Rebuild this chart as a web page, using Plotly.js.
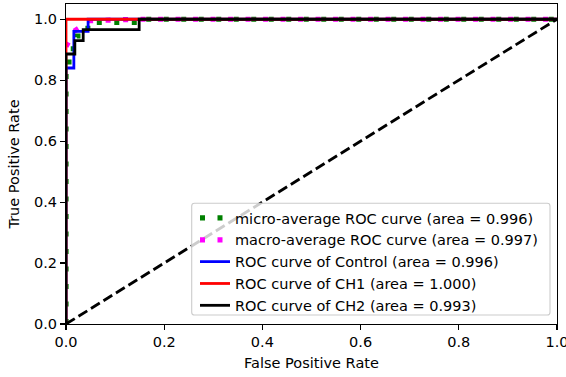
<!DOCTYPE html>
<html>
<head>
<meta charset="utf-8">
<script src="https://cdn.plot.ly/plotly-3.0.1.min.js"></script>
<style>html,body{margin:0;padding:0;background:#fff;}#chart{width:566px;height:377px;}</style>
</head>
<body>
<div id="chart"></div>
<script>
// ---- data ----
const microFpr = [0, 0, 0.006, 0.006, 0.015, 0.015, 0.022, 0.022, 0.035, 0.035, 0.05, 0.05, 0.15, 0.15, 1];
const microTpr = [0, 0.82, 0.82, 0.875, 0.875, 0.92, 0.92, 0.945, 0.945, 0.97, 0.97, 0.99, 0.99, 1, 1];
const macroFpr = [0, 0.016, 0.035, 0.045, 0.149, 1];
const macroTpr = [0.91, 0.96, 0.98, 0.995, 1, 1];
const controlFpr = [0, 0, 0.016, 0.016, 0.045, 0.045, 1];
const controlTpr = [0, 0.84, 0.84, 0.96, 0.96, 1, 1];
const ch1Fpr = [0, 0, 1];
const ch1Tpr = [0, 1, 1];
const ch2Fpr = [0, 0, 0.018, 0.018, 0.035, 0.035, 0.149, 0.149, 1];
const ch2Tpr = [0, 0.886, 0.886, 0.93, 0.93, 0.966, 0.966, 1, 1];
const chanceX = [0, 1];
const chanceY = [0, 1];
const seriesNames = [
  'micro-average ROC curve (area = 0.996)',
  'macro-average ROC curve (area = 0.997)',
  'ROC curve of Control (area = 0.996)',
  'ROC curve of CH1 (area = 1.000)',
  'ROC curve of CH2 (area = 0.993)'
];
const tickVals = [0, 0.2, 0.4, 0.6, 0.8, 1.0];
const tickText = ['0.0', '0.2', '0.4', '0.6', '0.8', '1.0'];

// ---- traces ----
const dotted = '5px,12.5px';
const traces = [
  {x: microFpr, y: microTpr, name: seriesNames[0], mode: 'lines',
   line: {color: '#008000', width: 5.2, dash: dotted}},
  {x: macroFpr, y: macroTpr, name: seriesNames[1], mode: 'lines',
   line: {color: '#ff00ff', width: 5.2, dash: dotted}},
  {x: controlFpr, y: controlTpr, name: seriesNames[2], mode: 'lines',
   line: {color: '#0000ff', width: 2.8}},
  {x: ch1Fpr, y: ch1Tpr, name: seriesNames[3], mode: 'lines',
   line: {color: '#ff0000', width: 2.8}},
  {x: ch2Fpr, y: ch2Tpr, name: seriesNames[4], mode: 'lines',
   line: {color: '#000000', width: 2.8}},
  {x: chanceX, y: chanceY, mode: 'lines', showlegend: false, hoverinfo: 'skip',
   line: {color: '#000000', width: 2.8, dash: '10.3px,4.4px'}}
];

// legend box (rounded) in paper coords
const W = 491, H = 320;
const bx0 = (191.7 - 66) / W, bx1 = (550 - 66) / W;
const by1 = (324 - 203.3) / H, by0 = (324 - 315) / H;
const rx = 2.8 / W, ry = 2.8 / H;
const boxPath = `M${bx0 + rx},${by1} L${bx1 - rx},${by1} Q${bx1},${by1} ${bx1},${by1 - ry} ` +
  `L${bx1},${by0 + ry} Q${bx1},${by0} ${bx1 - rx},${by0} L${bx0 + rx},${by0} Q${bx0},${by0} ${bx0},${by0 + ry} ` +
  `L${bx0},${by1 - ry} Q${bx0},${by1} ${bx0 + rx},${by1} Z`;

const font = {family: 'DejaVu Sans', size: 14.5, color: '#000000'};
const axisCommon = {
  showline: true, mirror: true, linecolor: '#000000', linewidth: 1.1,
  showgrid: false, zeroline: false,
  ticks: 'outside', ticklen: 4.9, tickwidth: 1.1, tickcolor: '#000000',
  tickvals: tickVals, ticktext: tickText, tickfont: font, automargin: false,
  ticklabeloverflow: 'allow'
};

const layout = {
  width: 566, height: 377,
  margin: {l: 66, r: 9, t: 4, b: 53},
  paper_bgcolor: '#ffffff', plot_bgcolor: '#ffffff',
  font: font,
  showlegend: true,
  xaxis: Object.assign({}, axisCommon, {
    range: [0, 1],
    title: {text: 'False Positive Rate', font: font, standoff: 8}
  }),
  yaxis: Object.assign({}, axisCommon, {
    range: [0, 1.05],
    title: {text: 'True Positive Rate', font: font, standoff: 11}
  }),
  legend: {
    x: (195 - 66) / W, y: (324 - 202) / H, xanchor: 'left', yanchor: 'top',
    bgcolor: 'rgba(0,0,0,0)', borderwidth: 0, font: font
  },
  shapes: [{
    type: 'path', xref: 'paper', yref: 'paper', path: boxPath, layer: 'above',
    fillcolor: 'rgba(255,255,255,0.8)', line: {color: '#cccccc', width: 1.1}
  }]
};

Plotly.newPlot('chart', traces, layout, {staticPlot: true, displayModeBar: false});
</script>
</body>
</html>
